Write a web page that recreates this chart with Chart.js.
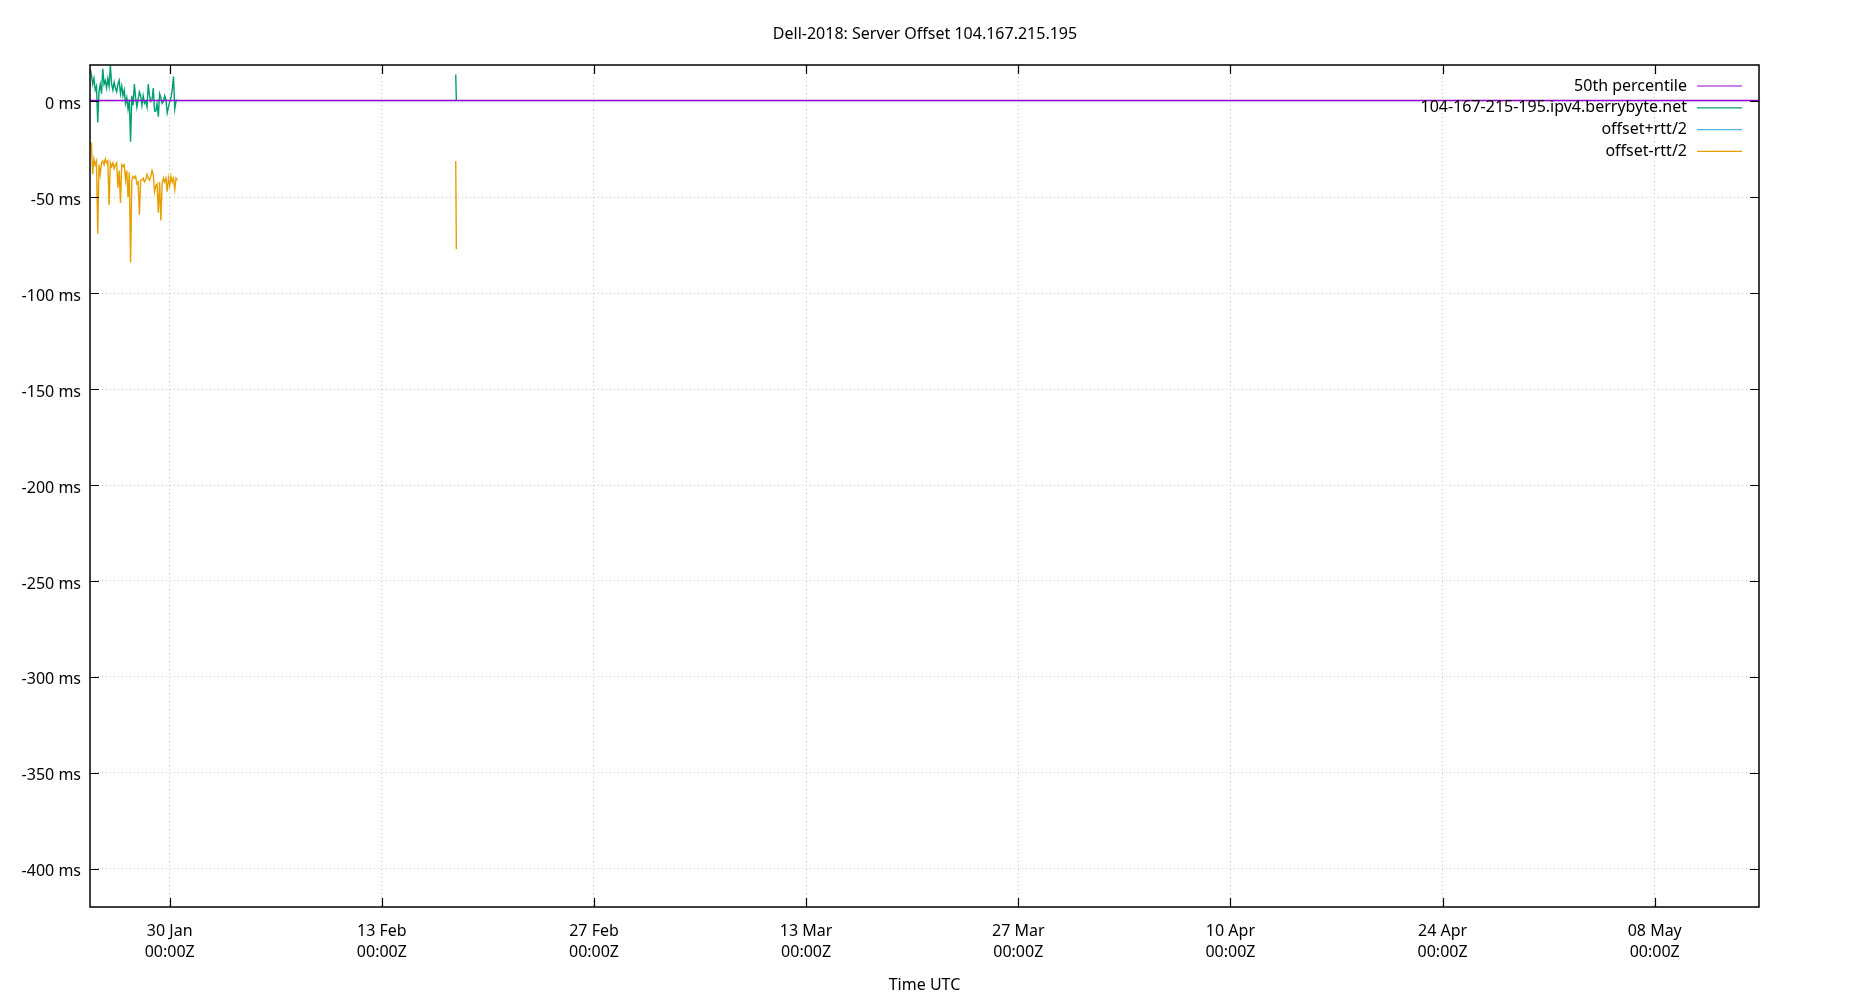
<!DOCTYPE html>
<html>
<head>
<meta charset="utf-8">
<script src="https://cdn.jsdelivr.net/npm/chart.js@4.4.1/dist/chart.umd.min.js"></script>
<style>
  html, body { margin: 0; padding: 0; background: #fff; }
  #chart { display: block; }
</style>
</head>
<body>
<canvas id="chart" width="1850" height="1000"></canvas>
<script>
const titleText = 'Dell-2018: Server Offset 104.167.215.195';
const seriesNames = ['50th percentile', '104-167-215-195.ipv4.berrybyte.net', 'offset+rtt/2', 'offset-rtt/2'];
const seriesColors = ['#9400d3', '#009e73', '#56b4e9', '#e69f00'];

// sample times (2018, UTC, "MM-DD HH"); null values break the line
const sampleTimes = [
  '01-24 18', '01-24 20', '01-24 22',
  '01-25 00', '01-25 02', '01-25 04', '01-25 06', '01-25 08', '01-25 10', '01-25 12', '01-25 14', '01-25 16', '01-25 18', '01-25 20', '01-25 22',
  '01-26 00', '01-26 02', '01-26 04', '01-26 06', '01-26 08', '01-26 10', '01-26 12', '01-26 14', '01-26 16', '01-26 18', '01-26 20', '01-26 22',
  '01-27 00', '01-27 02', '01-27 04', '01-27 06', '01-27 08', '01-27 10', '01-27 12', '01-27 14', '01-27 16', '01-27 18', '01-27 20', '01-27 22',
  '01-28 00', '01-28 02', '01-28 04', '01-28 06', '01-28 08', '01-28 10', '01-28 12', '01-28 14', '01-28 16', '01-28 18', '01-28 20', '01-28 22',
  '01-29 00', '01-29 02', '01-29 04', '01-29 06', '01-29 08', '01-29 10', '01-29 12', '01-29 14', '01-29 16', '01-29 18', '01-29 20', '01-29 22',
  '01-30 00', '01-30 02', '01-30 04', '01-30 06', '01-30 08', '01-30 10', '01-30 12',
  '02-05 00',
  '02-17 21', '02-17 22'
];

// offset in ms
const offsetValues = [
  17, 14, 9,
  12, 6, 8, -11, 5, 9, 4, 17, 9, 11, 7, 12,
  8, 19, 9, 6, 10, 7, 5, 9, 11, 4, 8, 3,
  6, -1, 2, -4, 1, -21, 3, -2, 9, 2, -3, 1,
  5, 3, -2, 3, -1, 0, -3, 9, 3, 0, 1, 7,
  -5, -5, -1, -8, 4, 2, -1, 0, 3, 1, -6, -3,
  0, 2, 6, 13, -4, 0, 1,
  null,
  14, 0.3
];

// offset - rtt/2 in ms
const lowerValues = [
  -21, -22, -38,
  -30, -33, -31, -69, -33, -38, -32, -31, -33, -30, -32, -31,
  -54, -32, -34, -32, -35, -33, -32, -45, -36, -53, -33, -34,
  -33, -41, -36, -50, -37, -84, -41, -39, -40, -39, -43, -42,
  -59, -41, -41, -40, -42, -41, -38, -40, -41, -39, -36, -38,
  -47, -44, -43, -58, -42, -62, -43, -40, -42, -40, -47, -40,
  -44, -39, -42, -40, -46, -40, -41,
  null,
  -31, -77
];

// offset + rtt/2 lies above the plotted range, nothing of it is visible
const upperValues = [];

const median = 0.5;

const xTickDates = ['01-30', '02-13', '02-27', '03-13', '03-27', '04-10', '04-24', '05-08'];
const xTickLabels = [
  ['30 Jan', '00:00Z'], ['13 Feb', '00:00Z'], ['27 Feb', '00:00Z'], ['13 Mar', '00:00Z'],
  ['27 Mar', '00:00Z'], ['10 Apr', '00:00Z'], ['24 Apr', '00:00Z'], ['08 May', '00:00Z']
];
const yTicks = [0, -50, -100, -150, -200, -250, -300, -350, -400];

const xRange = ['01-24 17:45', '05-14 21:10'];
const yMin = -420, yMax = 19;

function toTime(s) {
  const [md, hm] = s.split(' ');
  const [mo, d] = md.split('-').map(Number);
  const [h, mi] = (hm || '0').split(':').map(Number);
  return Date.UTC(2018, mo - 1, d, h, mi || 0);
}

const times = sampleTimes.map(toTime);
const xMin = toTime(xRange[0]), xMax = toTime(xRange[1]);
const tickTimes = xTickDates.map(toTime);

const FONT = '"Noto Sans", "DejaVu Sans", sans-serif';
const GRID = 'rgba(170,170,170,0.7)';

function lineSet(i, data) {
  return {
    label: seriesNames[i],
    data: data,
    borderColor: seriesColors[i],
    backgroundColor: seriesColors[i],
    borderWidth: 1.4,
    pointRadius: 0,
    tension: 0,
    spanGaps: false,
    clip: 0
  };
}

// gnuplot-style frame: border, inward ticks on all sides, and key
const frame = {
  id: 'frame',
  afterDraw(chart) {
    const { ctx, chartArea: a, scales: { x, y } } = chart;
    ctx.save();
    ctx.strokeStyle = '#000';
    ctx.lineWidth = 1.5;
    ctx.strokeRect(a.left, a.top, a.right - a.left, a.bottom - a.top);
    ctx.lineWidth = 1.2;
    ctx.beginPath();
    x.ticks.forEach(t => {
      const px = Math.round(x.getPixelForValue(t.value)) + 0.5;
      ctx.moveTo(px, a.bottom); ctx.lineTo(px, a.bottom - 9);
      ctx.moveTo(px, a.top); ctx.lineTo(px, a.top + 9);
    });
    y.ticks.forEach(t => {
      const py = Math.round(y.getPixelForValue(t.value)) + 0.5;
      ctx.moveTo(a.left, py); ctx.lineTo(a.left + 9, py);
      ctx.moveTo(a.right, py); ctx.lineTo(a.right - 9, py);
    });
    ctx.stroke();

    ctx.font = '16px ' + FONT;
    ctx.textAlign = 'right';
    ctx.textBaseline = 'middle';
    seriesNames.forEach((name, i) => {
      const ty = a.top + 21 + i * 21.8;
      ctx.fillStyle = '#000';
      ctx.fillText(name, a.right - 72, ty);
      ctx.strokeStyle = seriesColors[i];
      ctx.lineWidth = 1.2;
      ctx.beginPath();
      ctx.moveTo(a.right - 62, ty);
      ctx.lineTo(a.right - 17, ty);
      ctx.stroke();
    });
    ctx.restore();
  }
};

const ctx = document.getElementById('chart').getContext('2d');
const chart = new Chart(ctx, {
  type: 'line',
  data: {
    datasets: [
      lineSet(0, [{ x: xMin, y: median }, { x: xMax, y: median }]),
      lineSet(1, times.map((t, i) => ({ x: t, y: offsetValues[i] }))),
      lineSet(2, upperValues),
      lineSet(3, times.map((t, i) => ({ x: t, y: lowerValues[i] })))
    ]
  },
  options: {
    responsive: false,
    animation: false,
    layout: { padding: 0 },
    plugins: {
      legend: { display: false },
      tooltip: { enabled: false },
      title: {
        display: true,
        text: titleText,
        color: '#000',
        font: { family: FONT, size: 16, weight: 'normal' },
        padding: { top: 25, bottom: 20.8 }
      }
    },
    scales: {
      x: {
        type: 'linear',
        min: xMin,
        max: xMax,
        afterBuildTicks: s => { s.ticks = tickTimes.map(v => ({ value: v })); },
        afterFit: s => { s.height = 93; },
        ticks: {
          autoSkip: false,
          maxRotation: 0,
          padding: 13.5,
          color: '#000',
          font: { family: FONT, size: 16, lineHeight: 1.33 },
          callback: v => xTickLabels[tickTimes.indexOf(v)]
        },
        grid: { drawTicks: false, color: GRID, lineWidth: 1 },
        border: { display: false, dash: [1, 3] },
        title: {
          display: true,
          text: 'Time UTC',
          color: '#000',
          font: { family: FONT, size: 16 },
          padding: { top: 0, bottom: 5 }
        }
      },
      y: {
        min: yMin,
        max: yMax,
        afterBuildTicks: s => { s.ticks = yTicks.map(v => ({ value: v })); },
        afterFit: s => { s.width = 90; },
        ticks: {
          padding: 9,
          labelOffset: 3,
          color: '#000',
          font: { family: FONT, size: 16 },
          callback: v => v + ' ms'
        },
        grid: { drawTicks: false, color: GRID, lineWidth: 1 },
        border: { display: false, dash: [1, 3] }
      },
      // empty right-hand axis that only reserves the right margin
      yr: {
        position: 'right',
        min: yMin,
        max: yMax,
        afterBuildTicks: s => { s.ticks = []; },
        afterFit: s => { s.width = 91; },
        ticks: { display: false },
        grid: { display: false },
        border: { display: false }
      }
    }
  },
  plugins: [frame]
});
</script>
</body>
</html>
